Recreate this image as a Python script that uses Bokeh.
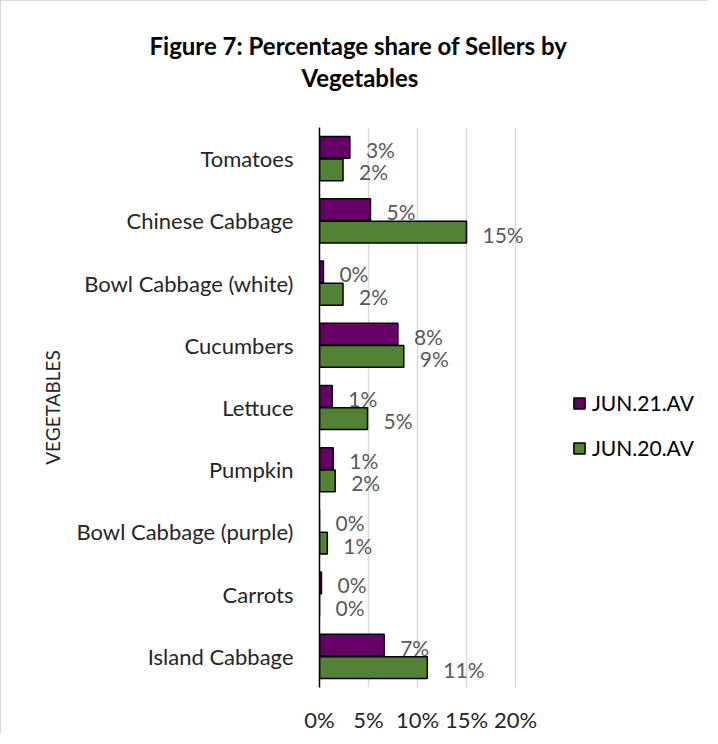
from bokeh.plotting import figure
from bokeh.models import (FactorRange, Range1d, ColumnDataSource, Legend, LegendItem,
                          Title, FixedTicker, PrintfTickFormatter)
from bokeh.transform import dodge
from bokeh.core.properties import value
from bokeh.embed import file_html
from bokeh.resources import INLINE

categories = ["Tomatoes", "Chinese Cabbage", "Bowl Cabbage (white)", "Cucumbers",
              "Lettuce", "Pumpkin", "Bowl Cabbage (purple)", "Carrots", "Island Cabbage"]
jun21 = [3.1, 5.2, 0.4, 8.0, 1.3, 1.4, 0.0, 0.2, 6.6]
jun20 = [2.4, 15.0, 2.4, 8.6, 4.9, 1.6, 0.8, 0.0, 11.0]
x_ticks = [0, 5, 10, 15, 20]
series_names = ["JUN.21.AV", "JUN.20.AV"]
title_lines = ["Figure 7: Percentage share of Sellers by", "Vegetables"]

PURPLE = "#660066"
GREEN = "#548235"
FONT = "Lato"

W, H = 708, 734
LEFT, RIGHT, TOP, BOTTOM = 318, 8, 126, 39
AXIS_PX = 196            # pixels from 0% to 20% on the axis
frame_w = W - LEFT - RIGHT
x_end = x_ticks[-1] * frame_w / AXIS_PX   # frame extends right so the legend is not clipped

src = ColumnDataSource(dict(
    cat=categories,
    jun21=jun21,
    jun20=jun20,
    lab21=["%d%%" % round(v) for v in jun21],
    lab20=["%d%%" % round(v) for v in jun20],
))

p = figure(width=W, height=H, output_backend="svg", toolbar_location=None,
           y_range=FactorRange(factors=list(reversed(categories)), range_padding=0),
           x_range=Range1d(0, x_end),
           min_border_left=LEFT, min_border_right=RIGHT, min_border_top=TOP,
           min_border_bottom=BOTTOM)
p.styles = {"border-top": "1px solid #D9D9D9", "border-left": "1px solid #D9D9D9"}
p.outline_line_color = None
p.background_fill_color = "white"
p.border_fill_color = "white"

r21 = p.hbar(y=dodge("cat", 0.18, range=p.y_range), right="jun21", left=0, height=0.35,
             source=src, fill_color=PURPLE, line_color="black", line_width=1.5)
r20 = p.hbar(y=dodge("cat", -0.18, range=p.y_range), right="jun20", left=0, height=0.35,
             source=src, fill_color=GREEN, line_color="black", line_width=1.5)

for col, lab, off in (("jun21", "lab21", 0.18), ("jun20", "lab20", -0.18)):
    p.text(x=col, y=dodge("cat", off, range=p.y_range), text=lab, source=src,
           x_offset=16, y_offset=2, text_baseline="middle", text_align="left",
           text_font=value(FONT), text_font_size="21px", text_color="#595959")

# axes
p.xaxis.ticker = FixedTicker(ticks=x_ticks)
p.xaxis.formatter = PrintfTickFormatter(format="%d%%")
p.xaxis.axis_line_color = None
p.xaxis.major_tick_line_color = None
p.xaxis.minor_tick_line_color = None
p.xaxis.major_label_standoff = 12
p.xaxis.major_label_text_font = FONT
p.xaxis.major_label_text_font_size = "22px"
p.xaxis.major_label_text_color = "#262626"

p.yaxis.axis_line_color = "black"
p.yaxis.axis_line_width = 1.5
p.yaxis.major_tick_line_color = None
p.yaxis.minor_tick_line_color = None
p.yaxis.major_label_standoff = 20
p.yaxis.major_label_text_font = FONT
p.yaxis.major_label_text_font_size = "22px"
p.yaxis.major_label_text_color = "#262626"
p.yaxis.axis_label = "VEGETABLES"
p.yaxis.axis_label_text_font = FONT
p.yaxis.axis_label_text_font_style = "normal"
p.yaxis.axis_label_text_font_size = "19px"
p.yaxis.axis_label_text_color = "#262626"
p.yaxis.axis_label_standoff = 10

p.xgrid.grid_line_color = "#D9D9D9"
p.xgrid.grid_line_width = 1.5
p.ygrid.grid_line_color = None

# title (two lines, nearest line added first)
p.add_layout(Title(text=title_lines[1], align="left", offset=-18, standoff=71,
                   text_font=FONT, text_font_style="bold", text_font_size="24px",
                   text_color="black"), "above")
p.add_layout(Title(text=title_lines[0], align="left", offset=-170, standoff=-69,
                   text_font=FONT, text_font_style="bold", text_font_size="24px",
                   text_color="black"), "above")

legend = Legend(items=[LegendItem(label=series_names[0], renderers=[r21]),
                       LegendItem(label=series_names[1], renderers=[r20])],
                location=(253, 227), orientation="vertical",
                glyph_width=14, glyph_height=14, label_height=25, spacing=20,
                label_standoff=6, padding=0, margin=0, border_line_color=None,
                background_fill_alpha=0,
                label_text_font=FONT, label_text_font_size="21px", label_text_color="black")
p.add_layout(legend, "center")

open("out.html", "w").write(file_html(p, INLINE))
